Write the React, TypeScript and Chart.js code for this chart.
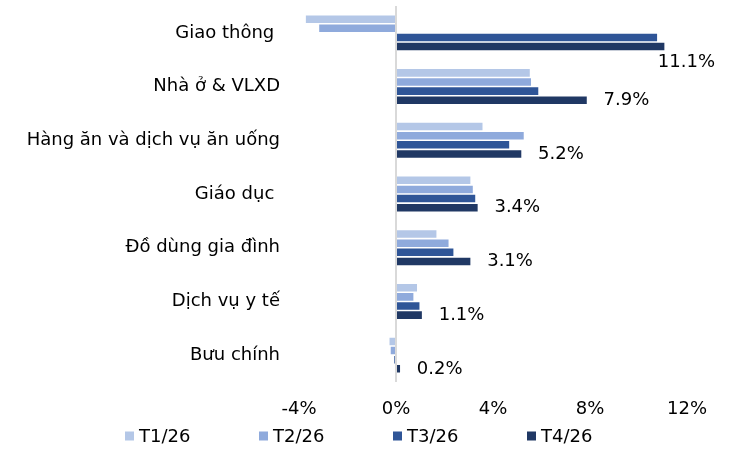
import React, { useEffect, useRef } from "react";
import { Chart, registerables } from "chart.js";

Chart.register(...registerables);

const categories = [
  "Giao thông ",
  "Nhà ở & VLXD",
  "Hàng ăn và dịch vụ ăn uống",
  "Giáo dục ",
  "Đồ dùng gia đình",
  "Dịch vụ y tế",
  "Bưu chính",
];
const seriesNames = ["T1/26", "T2/26", "T3/26", "T4/26"];
const t1 = [-3.75, 5.55, 3.6, 3.1, 1.7, 0.9, -0.3];
const t2 = [-3.2, 5.6, 5.3, 3.2, 2.2, 0.75, -0.25];
const t3 = [10.8, 5.9, 4.7, 3.3, 2.4, 1.0, -0.1];
const t4 = [11.1, 7.9, 5.2, 3.4, 3.1, 1.1, 0.2];
const xMin = -4;
const xMax = 12;
const xStep = 4;
const colors = ["#B4C7E7", "#8FAADC", "#2F5597", "#203864"];

const FONT = "'DejaVu Sans', 'Liberation Sans', Arial, sans-serif";
const FONT_SIZE = 18;

const labelPlugin = {
  id: "lastSeriesLabels",
  afterDatasetsDraw(chart: any) {
    const { ctx } = chart;
    const idx = chart.data.datasets.length - 1;
    const meta = chart.getDatasetMeta(idx);
    const data = chart.data.datasets[idx].data as number[];
    ctx.save();
    ctx.font = `${FONT_SIZE}px ${FONT}`;
    ctx.fillStyle = "#000";
    ctx.textBaseline = "middle";
    ctx.textAlign = "left";
    const limit = chart.width - 16;
    meta.data.forEach((bar: any, i: number) => {
      const txt = data[i].toFixed(1) + "%";
      const w = ctx.measureText(txt).width;
      const end = Math.max(bar.x, bar.base);
      let x = end + 16;
      let y = bar.y;
      if (x + w > limit) {
        x = limit - w;
        y = bar.y + 16;
      }
      ctx.fillText(txt, x, y);
    });
    ctx.restore();
  },
  afterDraw(chart: any) {
    const { ctx } = chart;
    ctx.save();
    ctx.font = `${FONT_SIZE}px ${FONT}`;
    ctx.textBaseline = "middle";
    ctx.textAlign = "left";
    const startX = 125;
    const spacing = 134;
    const y = 436;
    chart.data.datasets.forEach((ds: any, i: number) => {
      const x = startX + i * spacing;
      ctx.fillStyle = ds.backgroundColor;
      ctx.fillRect(x, y - 4.5, 9, 9);
      ctx.fillStyle = "#000";
      ctx.fillText(ds.label, x + 14, y + 1);
    });
    ctx.restore();
  },
};

export default function App() {
  const ref = useRef<HTMLCanvasElement | null>(null);
  useEffect(() => {
    if (!ref.current) return;
    const series = [t1, t2, t3, t4];
    const chart = new Chart(ref.current, {
      type: "bar",
      data: {
        labels: categories,
        datasets: series.map((d, i) => ({
          label: seriesNames[i],
          data: d,
          backgroundColor: colors[i],
          borderColor: "#ffffff",
          borderWidth: 0.8,
          categoryPercentage: 0.68,
          barPercentage: 1.0,
        })),
      },
      options: {
        indexAxis: "y",
        responsive: false,
        animation: false,
        devicePixelRatio: 1,
        layout: { padding: { top: 6, right: 44, bottom: 28, left: 0 } },
        plugins: {
          legend: { display: false },
          tooltip: { enabled: false },
        },
        scales: {
          x: {
            type: "linear",
            min: xMin,
            max: xMax,
            ticks: {
              stepSize: xStep,
              padding: 17,
              color: "#000",
              font: { family: FONT, size: FONT_SIZE },
              callback: (v: any) => `${v}%`,
            },
            grid: {
              drawTicks: false,
              lineWidth: 2,
              color: (c: any) =>
                c.tick && c.tick.value === 0 ? "#D9D9D9" : "rgba(0,0,0,0)",
            },
            border: { display: false },
            afterFit: (s: any) => {
              s.height = 40;
              s.paddingLeft = 0;
              s.paddingRight = 0;
            },
          },
          y: {
            type: "category",
            ticks: {
              padding: 19,
              color: "#000",
              font: { family: FONT, size: FONT_SIZE },
            },
            grid: { display: false, drawTicks: false },
            border: { display: false },
            afterFit: (s: any) => {
              s.width = 299;
              s.paddingTop = 0;
              s.paddingBottom = 0;
            },
          },
        },
      },
      plugins: [labelPlugin],
    } as any);
    return () => chart.destroy();
  }, []);
  return (
    <div style={{ position: "fixed", left: 0, top: 0, width: 731, height: 450, background: "#fff" }}>
      <canvas ref={ref} width={731} height={450} />
    </div>
  );
}
